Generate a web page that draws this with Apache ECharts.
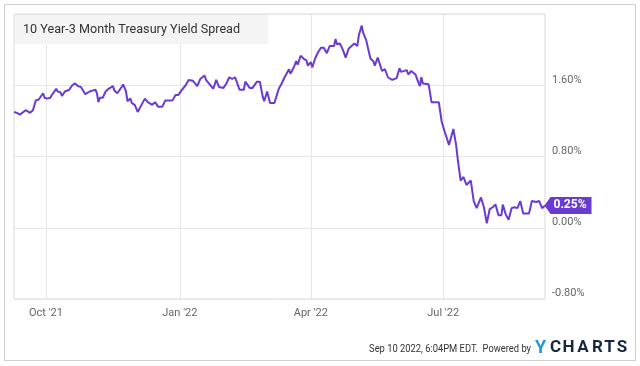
<!DOCTYPE html>
<html><head><meta charset="utf-8">
<script src="https://cdn.jsdelivr.net/npm/echarts@6/dist/echarts.min.js"></script>
<style>html,body{margin:0;padding:0;background:#fff}#c{width:640px;height:366px}</style>
</head><body><div id="c"></div>
<script>
const dates = [
'2021-09-09','2021-09-11','2021-09-13','2021-09-14','2021-09-17','2021-09-18','2021-09-20','2021-09-21','2021-09-22','2021-09-24','2021-09-26','2021-09-29','2021-09-30',
'2021-10-02','2021-10-04','2021-10-05','2021-10-08','2021-10-09','2021-10-11','2021-10-12','2021-10-14','2021-10-15','2021-10-17','2021-10-19','2021-10-21','2021-10-23','2021-10-25','2021-10-26','2021-10-28','2021-10-29','2021-10-31',
'2021-11-02','2021-11-04','2021-11-05','2021-11-06','2021-11-07','2021-11-09','2021-11-11','2021-11-13','2021-11-16','2021-11-17','2021-11-19','2021-11-22','2021-11-23','2021-11-25','2021-11-26','2021-11-28','2021-11-29',
'2021-12-01','2021-12-03','2021-12-05','2021-12-08','2021-12-10','2021-12-13','2021-12-15','2021-12-17','2021-12-20','2021-12-22','2021-12-24','2021-12-27','2021-12-29','2021-12-31',
'2022-01-02','2022-01-05','2022-01-07','2022-01-10','2022-01-13','2022-01-15','2022-01-18','2022-01-19','2022-01-24','2022-01-26','2022-01-28','2022-01-31',
'2022-02-02','2022-02-04','2022-02-06','2022-02-08','2022-02-11','2022-02-14','2022-02-15','2022-02-18','2022-02-20','2022-02-23','2022-02-25','2022-02-27','2022-02-28',
'2022-03-02','2022-03-04','2022-03-07','2022-03-10','2022-03-12','2022-03-14','2022-03-17','2022-03-18','2022-03-20','2022-03-22','2022-03-23','2022-03-25','2022-03-27','2022-03-29','2022-03-30',
'2022-04-01','2022-04-02','2022-04-04','2022-04-06','2022-04-08','2022-04-10','2022-04-12','2022-04-14','2022-04-17','2022-04-18','2022-04-19','2022-04-21','2022-04-23','2022-04-25','2022-04-27','2022-04-29',
'2022-05-01','2022-05-03','2022-05-04','2022-05-06','2022-05-07','2022-05-09','2022-05-12','2022-05-14','2022-05-15','2022-05-17','2022-05-20','2022-05-22','2022-05-24','2022-05-27','2022-05-30',
'2022-06-01','2022-06-02','2022-06-06','2022-06-07','2022-06-09','2022-06-12','2022-06-14','2022-06-15','2022-06-16','2022-06-17','2022-06-21','2022-06-23','2022-06-28','2022-06-30',
'2022-07-02','2022-07-05','2022-07-08','2022-07-10','2022-07-11','2022-07-13','2022-07-15','2022-07-17','2022-07-20','2022-07-22','2022-07-24','2022-07-27','2022-07-29','2022-07-31',
'2022-08-02','2022-08-04','2022-08-06','2022-08-08','2022-08-10','2022-08-11','2022-08-13','2022-08-15','2022-08-17','2022-08-19','2022-08-21','2022-08-23','2022-08-25','2022-08-29','2022-08-31',
'2022-09-03','2022-09-05','2022-09-07','2022-09-09'
];
const spread = [
1.30,1.29,1.27,1.25,1.32,1.30,1.29,1.30,1.32,1.43,1.44,1.51,1.46,
1.45,1.46,1.49,1.56,1.53,1.52,1.48,1.53,1.53,1.55,1.60,1.62,1.59,1.58,1.57,1.50,1.52,1.53,
1.54,1.55,1.51,1.41,1.46,1.46,1.53,1.56,1.59,1.54,1.51,1.58,1.61,1.53,1.42,1.45,1.40,
1.38,1.30,1.36,1.45,1.41,1.38,1.41,1.36,1.36,1.43,1.43,1.43,1.49,1.49,
1.54,1.60,1.66,1.65,1.59,1.67,1.71,1.66,1.56,1.66,1.58,1.57,
1.62,1.69,1.67,1.69,1.55,1.55,1.64,1.57,1.57,1.64,1.64,1.47,1.42,
1.53,1.40,1.40,1.56,1.62,1.69,1.78,1.73,1.79,1.87,1.83,1.93,1.90,1.88,1.82,
1.86,1.80,1.90,1.97,2.02,2.02,1.96,2.04,2.04,2.12,2.06,2.07,2.00,1.91,2.01,2.04,
2.07,2.04,2.16,2.27,2.19,2.11,1.90,1.87,1.82,1.91,1.76,1.78,1.69,1.66,1.68,
1.79,1.75,1.77,1.72,1.76,1.72,1.63,1.59,1.69,1.62,1.61,1.41,1.41,1.19,
1.08,0.93,1.11,0.92,0.77,0.53,0.57,0.48,0.53,0.30,0.22,0.34,0.23,0.05,
0.21,0.23,0.26,0.14,0.14,0.26,0.15,0.09,0.22,0.23,0.22,0.30,0.16,0.16,0.30,
0.29,0.30,0.22,0.25
];
const xRange = ['2021-09-09', '2022-09-09'];
const xTickDates = ['2021-10-01', '2022-01-01', '2022-04-01', '2022-07-01'];
const xTickLabels = ["Oct '21", "Jan '22", "Apr '22", "Jul '22"];
const yMin = -0.8, yMax = 2.4, yStep = 0.8;
const titleText = '10 Year-3 Month Treasury Yield Spread';
const footerText = 'Sep 10 2022, 6:04PM EDT.  Powered by';
const logoLetters = ['C', 'H', 'A', 'R', 'T', 'S'];

const ts = d => echarts.number.parseDate(d).getTime();
const seriesData = dates.map((d, i) => [ts(d), spread[i]]);
const tickTs = xTickDates.map(ts);
const lastIdx = dates.length - 1;
const PURPLE = '#6a3bd2';
const FONT = 'Roboto';

const logoCenters = [555.5, 568.5, 583, 597.5, 609.5, 622];
const logoGraphics = logoLetters.map((ch, i) => ({
  type: 'text', z: 101, x: logoCenters[i], y: 348,
  style: {text: ch, font: 'bold 17px Roboto', fill: '#18263f', textAlign: 'center', textVerticalAlign: 'middle'}
}));

const chart = echarts.init(document.getElementById('c'), null, {renderer: 'canvas'});
chart.setOption({
  animation: false,
  backgroundColor: '#fff',
  grid: {left: 14, top: 14, width: 531, height: 285, show: true, borderColor: '#d8d8d8', borderWidth: 1, containLabel: false},
  xAxis: {
    type: 'value', min: ts(xRange[0]), max: ts(xRange[1]),
    axisLine: {show: false}, axisTick: {show: false, customValues: tickTs},
    splitLine: {show: true, lineStyle: {color: '#e6e6e6', width: 1}},
    axisLabel: {customValues: tickTs, color: '#666', fontFamily: FONT, fontSize: 11, margin: 9,
      formatter: v => { const i = tickTs.indexOf(v); return i >= 0 ? xTickLabels[i] : ''; }}
  },
  yAxis: {
    type: 'value', position: 'right', min: yMin, max: yMax, interval: yStep,
    axisLine: {show: false}, axisTick: {show: false},
    splitLine: {show: true, lineStyle: {color: '#e6e6e6', width: 1}},
    axisLabel: {color: '#666', fontFamily: FONT, fontSize: 11, margin: 7, verticalAlign: 'bottom', showMaxLabel: false,
      formatter: v => v > yMax - 0.01 ? '' : v.toFixed(2) + '%'}
  },
  series: [{
    type: 'line', data: seriesData, showSymbol: false, symbol: 'none',
    lineStyle: {color: PURPLE, width: 2}, itemStyle: {color: PURPLE},
    markPoint: {
      symbol: 'path://M0,8.5L6,0L47,0L47,17L6,17Z', symbolSize: [47, 17], symbolOffset: [23, 0], symbolKeepAspect: false,
      itemStyle: {color: PURPLE},
      label: {show: true, position: 'inside', color: '#fff', fontWeight: 'bold', fontFamily: FONT, fontSize: 12, offset: [2, 0],
        formatter: p => p.value.toFixed(2) + '%'},
      data: [{coord: [ts(dates[lastIdx]), spread[lastIdx]], value: spread[lastIdx]}]
    }
  }],
  graphic: [
    {type: 'rect', z: 100, shape: {x: 4.5, y: 4.5, width: 631, height: 356}, style: {fill: 'none', stroke: '#cfcfcf', lineWidth: 1}},
    {type: 'rect', z: 100, shape: {x: 15, y: 15, width: 253, height: 29}, style: {fill: '#f4f4f4'}},
    {type: 'text', z: 101, x: 23, y: 30, scaleX: 0.97, style: {text: titleText, font: '13px Roboto', fill: '#333', textVerticalAlign: 'middle'}},
    {type: 'text', z: 101, x: 531, y: 349, scaleX: 0.85, style: {text: footerText, font: '11px Roboto', fill: '#333', textAlign: 'right', textVerticalAlign: 'middle'}},
    {type: 'text', z: 101, x: 540.5, y: 348, style: {text: 'Y', font: 'bold 18px Roboto', fill: '#1f9ad8', textAlign: 'center', textVerticalAlign: 'middle'}}
  ].concat(logoGraphics)
});
</script></body></html>
